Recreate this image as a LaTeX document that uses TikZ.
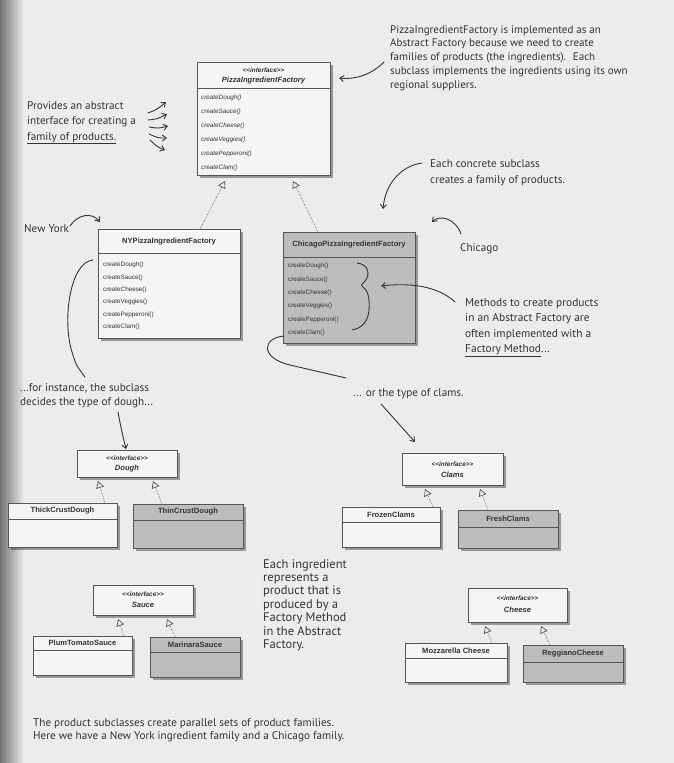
\documentclass[tikz,border=0pt]{standalone}
\usepackage{fontspec}
\setmainfont{Liberation Sans}
\newfontfamily\hand{PT Sans}
\usetikzlibrary{arrows.meta,shadows,calc}
\definecolor{paper}{HTML}{ECECEA}
\definecolor{boxfill}{HTML}{F5F5F3}
\definecolor{boxgray}{HTML}{BDBDBB}
\definecolor{ink}{HTML}{333333}
\definecolor{edge}{HTML}{555555}
\newcommand{\hw}[1]{\begin{tabular}[t]{@{}l@{}}#1\end{tabular}}
\newcommand{\ifc}{<\kern0pt<interface>\kern0pt>}
\tikzset{
  umlbox/.style={draw=edge, line width=0.7pt, fill=boxfill, inner sep=0pt, anchor=north west,
    drop shadow={shadow xshift=2.5pt, shadow yshift=-2.5pt, fill=black, opacity=0.35}},
  umlgray/.style={umlbox, fill=boxgray},
  sepline/.style={draw=edge, line width=0.6pt},
  meth/.style={font=\fontsize{6.3}{7}\selectfont, anchor=west, text=ink, inner sep=0pt},
  imeth/.style={meth, font=\itshape\fontsize{6.3}{7}\selectfont},
  ctitle/.style={font=\bfseries\fontsize{7.6}{8}\selectfont, text=ink, inner sep=0pt},
  stereo/.style={font=\bfseries\itshape\fontsize{6.4}{7}\selectfont, text=ink, inner sep=0pt},
  ititle/.style={font=\bfseries\itshape\fontsize{7.6}{8}\selectfont, text=ink, inner sep=0pt},
  note/.style={font=\hand\fontsize{11.2}{15}\selectfont, text=ink, anchor=base west, inner sep=0pt},
  real/.style={draw=edge, densely dotted, line width=0.6pt,
    -{Triangle[open,length=7pt,width=8pt,line width=0.7pt]}},
  handarrow/.style={draw=ink, line width=0.9pt, line cap=round,
    -{Straight Barb[length=4pt,width=6pt,line width=0.9pt]}},
  handline/.style={draw=ink, line width=0.9pt, line cap=round},
}
\begin{document}
\begin{tikzpicture}[x=1pt,y=-1pt]
\useasboundingbox (0,0) rectangle (674,763);
\fill[paper] (0,0) rectangle (674,763);
\shade[left color=black!55, right color=paper] (0,0) rectangle (24,763);

% ---------- PizzaIngredientFactory ----------
\node[umlbox, minimum width=133pt, minimum height=113pt] (pif) at (197,62) {};
\draw[sepline] (197,88) -- (330,88);
\node[stereo] (pifS) at (263.5,70) {\ifc};
\node[ititle] (pifT) at (263.5,81) {PizzaIngredientFactory};
\foreach \t [count=\i] in {createDough(),createSauce(),createCheese(),createVeggies(),createPepperoni(),createClam()}
  \node[imeth] (pifm\i) at (201,{84+14*\i}) {\t};

% ---------- NYPizzaIngredientFactory ----------
\node[umlbox, minimum width=142pt, minimum height=109pt] (ny) at (98,229) {};
\draw[sepline] (98,253) -- (240,253);
\node[ctitle] (nyT) at (169,242) {NYPizzaIngredientFactory};
\foreach \t [count=\i] in {createDough(),createSauce(),createCheese(),createVeggies(),createPepperoni(),createClam()}
  \node[meth] (nym\i) at (103,{252.6+12.4*\i}) {\t};

% ---------- ChicagoPizzaIngredientFactory ----------
\node[umlgray, minimum width=132pt, minimum height=111pt] (chi) at (283,232) {};
\draw[sepline] (283,257) -- (415,257);
\node[ctitle] (chiT) at (349,245) {ChicagoPizzaIngredientFactory};
\foreach \t [count=\i] in {createDough(),createSauce(),createCheese(),createVeggies(),createPepperoni(),createClam()}
  \node[meth] (chim\i) at (288,{252.6+13.4*\i}) {\t};

\coordinate (pifA) at (225,181);
\coordinate (pifB) at (293,181);
\coordinate (nyTop) at (200,229);
\coordinate (chiTop) at (318,232);
\draw[real] (nyTop) -- (pifA);
\draw[real] (chiTop) -- (pifB);

% ---------- Dough ----------
\node[umlbox, minimum width=100pt, minimum height=27pt] (dough) at (77,450) {};
\node[stereo] (doughS) at (127,458) {\ifc};
\node[ititle] (doughT) at (127,469) {Dough};
\node[umlbox, minimum width=109pt, minimum height=44pt] (thick) at (8,503) {};
\draw[sepline] (8,519) -- (117,519);
\node[ctitle] (thickT) at (62.5,511) {ThickCrustDough};
\node[umlgray, minimum width=110pt, minimum height=44pt] (thin) at (133,504) {};
\draw[sepline] (133,520) -- (243,520);
\node[ctitle] (thinT) at (188,512) {ThinCrustDough};
\coordinate (dA) at (98,481); \coordinate (dB) at (153,481);
\coordinate (thickTop) at (105,503); \coordinate (thinTop) at (162,504);
\draw[real] (thickTop) -- (dA);
\draw[real] (thinTop) -- (dB);

% ---------- Clams ----------
\node[umlbox, minimum width=101pt, minimum height=32pt] (clams) at (402,453) {};
\node[stereo] (clamsS) at (452.5,464) {\ifc};
\node[ititle] (clamsT) at (452.5,475) {Clams};
\node[umlbox, minimum width=98pt, minimum height=40pt] (frozen) at (342,507) {};
\draw[sepline] (342,522) -- (440,522);
\node[ctitle] (frozenT) at (391,515) {FrozenClams};
\node[umlgray, minimum width=100pt, minimum height=38pt] (fresh) at (458,510) {};
\draw[sepline] (458,527) -- (558,527);
\node[ctitle] (freshT) at (508,519) {FreshClams};
\coordinate (cA) at (425,489); \coordinate (cB) at (480,489);
\coordinate (frozenTop) at (433,507); \coordinate (freshTop) at (488,510);
\draw[real] (frozenTop) -- (cA);
\draw[real] (freshTop) -- (cB);

% ---------- Sauce ----------
\node[umlbox, minimum width=100pt, minimum height=30pt] (sauce) at (93,585) {};
\node[stereo] (sauceS) at (143,594) {\ifc};
\node[ititle] (sauceT) at (143,605) {Sauce};
\node[umlbox, minimum width=99pt, minimum height=39pt] (plum) at (33,636) {};
\draw[sepline] (33,650) -- (132,650);
\node[ctitle] (plumT) at (82.5,643) {PlumTomatoSauce};
\node[umlgray, minimum width=90pt, minimum height=40pt] (marinara) at (150,637) {};
\draw[sepline] (150,652) -- (240,652);
\node[ctitle] (marinaraT) at (195,645) {MarinaraSauce};
\coordinate (sA) at (118,619); \coordinate (sB) at (167,619);
\coordinate (plumTop) at (124,636); \coordinate (marTop) at (175,637);
\draw[real] (plumTop) -- (sA);
\draw[real] (marTop) -- (sB);

% ---------- Cheese ----------
\node[umlbox, minimum width=99pt, minimum height=34pt] (cheese) at (468,588) {};
\node[stereo] (cheeseS) at (517.5,598) {\ifc};
\node[ititle] (cheeseT) at (517.5,610) {Cheese};
\node[umlbox, minimum width=102pt, minimum height=39pt] (mozz) at (405,643) {};
\draw[sepline] (405,658) -- (507,658);
\node[ctitle] (mozzT) at (456,651) {Mozzarella Cheese};
\node[umlgray, minimum width=100pt, minimum height=37pt] (regg) at (523,645) {};
\draw[sepline] (523,662) -- (623,662);
\node[ctitle] (reggT) at (573,654) {ReggianoCheese};
\coordinate (chA) at (485,626); \coordinate (chB) at (541,626);
\coordinate (mozzTop) at (492,643); \coordinate (reggTop) at (550,645);
\draw[real] (mozzTop) -- (chA);
\draw[real] (reggTop) -- (chB);

% ---------- Annotations ----------
\node[note, font=\hand\fontsize{11.2}{15.5}\selectfont] (n1) at (27,109) {\hw{Provides an abstract\\interface for creating a\\\underline{family of products.}}};
\foreach \a/\b/\c/\d in {148/113/166/102, 148/120/167/114, 149/127/168/126, 149/134/167/138, 150/140/165/150}
  \draw[handarrow] (\a,\b) .. controls ({(\a+\c)/2},{(\b+\d)/2+2}) .. (\c,\d);

\node[note, font=\hand\fontsize{11}{13.8}\selectfont] (n2) at (390,33) {\hw{PizzaIngredientFactory is implemented as an\\Abstract Factory because we need to create\\families of products (the ingredients).~ Each\\subclass implements the ingredients using its own\\regional suppliers.}};
\coordinate (n2a) at (384,62);
\coordinate (n2b) at (339,78);
\draw[handarrow] (n2a) .. controls (372,74) and (356,80) .. (n2b);

\node[note, font=\hand\fontsize{11.2}{16}\selectfont] (n3) at (430,167) {\hw{Each concrete subclass\\creates a family of products.}};
\coordinate (n3a) at (422,163); \coordinate (n3b) at (383,209);
\draw[handarrow] (n3a) .. controls (400,166) and (385,185) .. (n3b);

\node[note] (n4) at (460,251) {Chicago};
\coordinate (n4a) at (461,234); \coordinate (n4b) at (432,222);
\draw[handarrow] (n4a) .. controls (456,219) and (440,214) .. (n4b);

\draw[handline] (357,263) .. controls (366,264) and (370,270) .. (367,278)
  .. controls (365,283) and (360,284) .. (362,286) .. controls (368,290) and (370,298) .. (369,310)
  .. controls (368,322) and (362,328) .. (352,330);
\node[note, font=\hand\fontsize{11.4}{15.5}\selectfont] (n5) at (465,306) {\hw{Methods to create products\\in an Abstract Factory are\\often implemented with a\\\underline{Factory Method}...}};
\coordinate (n5a) at (455,302); \coordinate (n5b) at (381,286);
\draw[handarrow] (n5a) .. controls (440,288) and (415,282) .. (n5b);

\node[note] (n6) at (24,232) {New York};
\coordinate (n6a) at (70,226); \coordinate (n6b) at (100,222);
\draw[handarrow] (n6a) .. controls (78,214) and (92,212) .. (n6b);

\coordinate (nyL) at (93,260);
\coordinate (n7end) at (85,377);
\draw[handline] (nyL) .. controls (70,262) and (62,320) .. (72,352) .. controls (76,365) .. (n7end);
\node[note, font=\hand\fontsize{11.2}{14}\selectfont] (n7) at (20,391) {\hw{...for instance, the subclass\\decides the type of dough...}};
\coordinate (n7a) at (118,412); \coordinate (n7b) at (126,449);
\draw[handarrow] (n7a) .. controls (121,428) .. (n7b);

\coordinate (chiL) at (284,336);
\coordinate (n8end) at (346,378);
\draw[handline] (chiL) .. controls (262,338) and (260,358) .. (290,365) .. controls (318,371) .. (n8end);
\node[note] (n8) at (353,396) {... or the type of clams.};
\coordinate (n8a) at (381,404); \coordinate (n8b) at (415,442);
\draw[handarrow] (n8a) -- (n8b);

\node[note, font=\hand\fontsize{12.5}{13.4}\selectfont] (n9) at (263,568) {\hw{Each ingredient\\represents a\\product that is\\produced by a\\Factory Method\\in the Abstract\\Factory.}};

\node[note, font=\hand\fontsize{11.2}{13}\selectfont] (n10) at (33,726) {\hw{The product subclasses create parallel sets of product families.\\Here we have a New York ingredient family and a Chicago family.}};
\end{tikzpicture}
\end{document}
